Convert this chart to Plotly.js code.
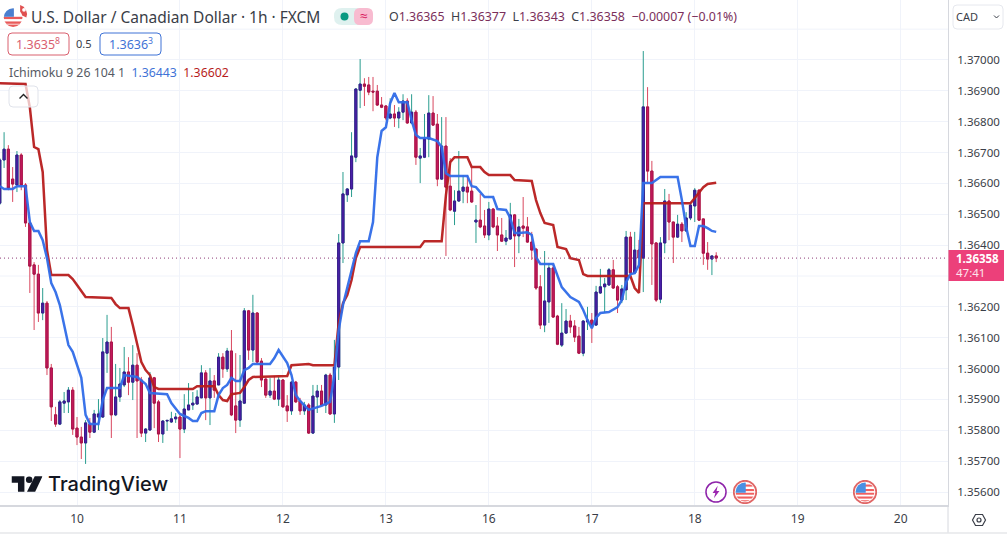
<!DOCTYPE html>
<html>
<head>
<meta charset="utf-8">
<script src="https://cdn.plot.ly/plotly-3.0.1.min.js"></script>
<style>html,body{margin:0;padding:0;background:#fff;overflow:hidden}#chart{width:1007px;height:536px}</style>
</head>
<body>
<div id="chart"></div>
<script>
// Hourly bars (x = bar number)
const open  = [136536,136676,136711,136614,136595,136692,136595,136472,136336,136306,136180,136212,136002,135850,135820,135888,135892,135930,135807,135778,135759,135820,135794,135843,135843,136050,136086,135850,135908,135947,135989,135956,136011,135963,135791,135801,135970,135892,135788,135830,135827,135837,135843,135804,135866,135882,135885,135905,135986,135905,135960,135947,136037,135999,136057,135879,135833,135888,136187,136060,136180,136024,135966,135914,135927,135901,135963,135879,135863,135956,135895,135863,135882,135791,135908,135927,135882,135979,135853,136005,136407,136563,136582,136685,136902,136922,136919,136899,136899,136854,136851,136812,136825,136812,136831,136867,136796,136831,136682,136685,136744,136828,136792,136614,136721,136591,136510,136543,136575,136588,136575,136475,136481,136462,136433,136517,136462,136433,136413,136420,136498,136430,136462,136459,136410,136387,136265,136141,136216,136326,136170,136076,136115,136154,136138,136105,136050,136151,136157,136141,136245,136265,136271,136320,136265,136222,136255,136426,136310,136384,136358,136848,136640,136407,136225,136407,136543,136475,136426,136468,136446,136488,136527,136578,136485,136374,136355,136365];
const high  = [136682,136766,136724,136653,136705,136698,136601,136475,136345,136336,136261,136219,136015,135876,135898,135924,135940,135940,135843,135811,135833,135840,135866,135901,136099,136174,136135,136015,136002,136070,136037,136076,136050,135973,135807,135989,135973,135898,135833,135833,135860,135856,135853,135917,135953,135924,135930,136011,135995,136002,135979,136050,136050,136067,136125,136050,136044,136196,136190,136239,136183,136034,135969,135969,135976,135973,135966,135914,135960,135960,135905,135892,135888,135947,135947,135947,135983,135986,136093,136436,136637,136585,136766,136909,137003,136941,136945,136945,136919,136880,136854,136876,136854,136847,136889,136876,136889,136838,136715,136825,136886,136883,136825,136815,136815,136682,136578,136705,136627,136627,136650,136530,136566,136514,136540,136520,136491,136488,136449,136537,136501,136485,136556,136491,136443,136391,136303,136381,136342,136336,136174,136212,136193,136174,136157,136135,136157,136200,136180,136268,136323,136294,136326,136352,136271,136271,136446,136443,136443,136417,137029,136912,136673,136410,136426,136582,136566,136475,136498,136475,136507,136537,136585,136582,136485,136410,136365,136377];
const low   = [136530,136650,136578,136540,136572,136578,136459,136245,136125,136151,136157,135979,135830,135811,135817,135856,135856,135785,135752,135707,135691,135775,135791,135801,135840,135986,135775,135846,135892,135940,135914,135898,135775,135778,135762,135798,135807,135762,135759,135798,135824,135824,135710,135791,135866,135866,135885,135905,135833,135817,135905,135947,135970,135989,135846,135791,135811,135885,136028,136021,136018,135940,135905,135905,135898,135879,135873,135827,135850,135889,135850,135850,135788,135788,135856,135879,135856,135850,135824,135963,136342,136540,136556,136669,136844,136851,136886,136834,136851,136844,136805,136808,136783,136779,136805,136793,136792,136660,136601,136682,136685,136786,136591,136611,136365,136510,136465,136540,136536,136536,136537,136407,136455,136423,136416,136455,136381,136410,136400,136417,136329,136374,136426,136407,136352,136255,136128,136118,136148,136164,136076,136070,136113,136115,136086,136047,136040,136125,136083,136138,136242,136180,136268,136258,136180,136212,136222,136307,136307,136355,136248,136604,136271,136216,136212,136374,136416,136342,136423,136410,136443,136481,136475,136478,136336,136320,136303,136345];
const close = [136676,136711,136585,136598,136692,136595,136472,136332,136306,136180,136212,136002,135876,135820,135892,135895,135930,135804,135778,135759,135824,135794,135853,135853,136054,136086,135850,135908,135950,135989,135956,136011,135960,135791,135804,135970,135888,135788,135830,135832,135837,135843,135804,135869,135882,135888,135908,135986,135905,135960,135930,136037,135999,136057,135850,135833,135895,136187,136060,136180,136021,135963,135914,135927,135901,135963,135876,135863,135956,135892,135863,135882,135791,135911,135927,135882,135979,135853,136005,136407,136566,136582,136689,136906,136922,136915,136896,136896,136854,136847,136812,136825,136812,136831,136867,136796,136831,136685,136689,136744,136828,136789,136614,136721,136588,136514,136543,136575,136588,136572,136540,136481,136459,136433,136517,136459,136433,136413,136423,136498,136430,136459,136455,136410,136384,136261,136141,136219,136326,136167,136079,136115,136154,136135,136102,136050,136154,136157,136141,136248,136265,136274,136320,136261,136222,136258,136426,136310,136384,136358,136848,136640,136404,136222,136407,136543,136475,136426,136468,136446,136488,136530,136578,136481,136374,136355,136365,136358];

// Ichimoku conversion line (blue): bar number and value at each bend
const conversionBar = [0,1,3,4,6,7,8,9,10,11,12,13,14,16,17,19,20,21,23,24,25,28,29,32,34,35,39,40,42,44,45,46,47,48,50,51,52,53,54,55,56,57,58,59,63,64,65,66,67,68,69,70,71,72,75,77,78,79,80,81,82,83,84,86,87,88,89,90,91,92,93,95,96,97,98,100,102,103,104,105,109,110,111,113,115,116,118,119,120,121,123,124,125,126,129,130,131,133,135,136,137,138,139,140,142,144,145,146,147,148,149,150,152,154,158,159,160,161,162,163,164,165,166,167];
const conversionVal = [136591,136582,136582,136591,136591,136475,136446,136446,136416,136358,136277,136248,136206,136076,136054,135970,135850,135820,135820,135898,135937,135937,135979,135973,135950,135921,135917,135888,135853,135840,135830,135830,135856,135862,135862,135914,135937,135947,135970,135960,135960,135995,136002,136015,136015,136034,136060,136041,136018,135979,135914,135895,135882,135866,135879,135892,135979,136125,136206,136261,136319,136374,136413,136413,136475,136685,136770,136782,136860,136893,136863,136863,136805,136757,136747,136747,136737,136718,136633,136624,136624,136591,136588,136556,136556,136517,136514,136488,136439,136439,136442,136433,136361,136339,136339,136300,136264,136232,136216,136190,136157,136131,136164,136180,136183,136199,136222,136280,136306,136309,136335,136601,136601,136621,136621,136546,136459,136397,136397,136462,136462,136455,136446,136443];

// Ichimoku base line (red): bar number and value at each bend
const baseBar = [0,6,7,8,9,10,11,12,16,17,18,20,26,27,28,30,31,32,33,34,35,36,37,45,46,50,51,52,53,54,56,57,58,59,67,68,72,73,78,79,80,81,82,83,84,98,99,103,104,105,106,109,110,112,113,114,119,120,124,125,126,127,129,130,132,133,135,136,137,146,147,148,149,150,161,162,163,164,165,166,167];
const baseVal = [136925,136922,136847,136718,136711,136637,136384,136303,136303,136290,136271,136232,136229,136209,136196,136196,136141,136076,136021,135995,135979,135940,135934,135934,135943,135943,135914,135898,135895,135917,135921,135940,135963,135973,135976,136011,136015,136011,136011,136148,136212,136238,136287,136358,136394,136394,136413,136413,136562,136669,136685,136685,136653,136653,136637,136627,136627,136611,136608,136546,136504,136472,136465,136394,136387,136358,136352,136306,136300,136300,136300,136261,136245,136536,136536,136553,136572,136588,136598,136601,136602];

const dayLabels = ['10','11','12','13','16','17','18','19','20'];
const dayBars   = [18,42,66,90,114,138,162,186,210];
const priceLabels = ['1.35600','1.35700','1.35800','1.35900','1.36000','1.36100','1.36200','1.36400','1.36500','1.36600','1.36700','1.36800','1.36900','1.37000'];
const priceTicks  = [1.356,1.357,1.358,1.359,1.36,1.361,1.362,1.364,1.365,1.366,1.367,1.368,1.369,1.37];
const unlabelledGrid = [1.363,1.371];
const lastPrice = 1.36358;

const p = a => a.map(v => v / 100000);
const bars = open.map((_, i) => i);
const O = p(open), H = p(high), L = p(low), C = p(close);
const bodyHigh = O.map((v, i) => Math.max(v, C[i]));
const bodyLow  = O.map((v, i) => Math.min(v, C[i]));

const UP_BODY = '#4a20a8', UP_EDGE = '#3a1a8c', DN_BODY = '#c9185f', DN_EDGE = '#a3154a', UP_WICK = '#2a9d8f', DN_WICK = '#d9485f';
const FONT = '"Noto Sans", "Open Sans", sans-serif';
const DARK = '#3a3e48';
const GRID = '#f0f3fa';

const traces = [
  { type:'candlestick', x:bars, open:O, high:H, low:L, close:C, width:0.02, whiskerwidth:0,
    increasing:{line:{color:UP_WICK,width:1},fillcolor:UP_WICK},
    decreasing:{line:{color:DN_WICK,width:1},fillcolor:DN_WICK}, hoverinfo:'skip', showlegend:false },
  { type:'candlestick', x:bars, open:O, high:bodyHigh, low:bodyLow, close:C, width:0.62, whiskerwidth:0,
    increasing:{line:{color:UP_EDGE,width:1},fillcolor:UP_BODY},
    decreasing:{line:{color:DN_EDGE,width:1},fillcolor:DN_BODY}, hoverinfo:'skip', showlegend:false },
  { type:'scatter', mode:'lines', x:baseBar, y:p(baseVal), line:{color:'#b71c1c',width:2.5,shape:'linear'}, opacity:0.95, hoverinfo:'skip', showlegend:false },
  { type:'scatter', mode:'lines', x:conversionBar, y:p(conversionVal), line:{color:'#2f6be8',width:2.5,shape:'linear'}, opacity:0.95, hoverinfo:'skip', showlegend:false }
];

function txt(x, y, text, size, color, extra) {
  return Object.assign({ xref:'paper', yref:'paper', x:x/948, y:1-y/505, text:text, showarrow:false,
    xanchor:'left', yanchor:'middle', font:{family:FONT,size:size,color:color}, align:'left' }, extra||{});
}
function mid(x, y, text, size, color) {
  return txt(x, y, text, size, color, {xanchor:'center'});
}
function pxX(x){ return x/948; }
function pxY(y){ return 1-y/505; }
function rrect(x0,y0,x1,y1,r){
  const X=pxX, Y=pxY, kx=r/948, ky=r/505;
  return `M${X(x0)+kx},${Y(y0)} L${X(x1)-kx},${Y(y0)} Q${X(x1)},${Y(y0)} ${X(x1)},${Y(y0)-ky} L${X(x1)},${Y(y1)+ky} Q${X(x1)},${Y(y1)} ${X(x1)-kx},${Y(y1)} L${X(x0)+kx},${Y(y1)} Q${X(x0)},${Y(y1)} ${X(x0)},${Y(y1)+ky} L${X(x0)},${Y(y0)-ky} Q${X(x0)},${Y(y0)} ${X(x0)+kx},${Y(y0)} Z`;
}
function box(x0,y0,x1,y1,r,fill,line,w,op){
  return { type:'path', xref:'paper', yref:'paper', path:rrect(x0,y0,x1,y1,r), fillcolor:fill||'rgba(0,0,0,0)',
    line:{color:line||'rgba(0,0,0,0)',width:w===undefined?1:w}, opacity:op===undefined?1:op, layer:'above' };
}
function seg(x0,y0,x1,y1,color,w){
  return { type:'line', xref:'paper', yref:'paper', x0:pxX(x0), y0:pxY(y0), x1:pxX(x1), y1:pxY(y1), line:{color:color,width:w||1} };
}
function icon(svg,cx,cy,size){
  return { source:'data:image/svg+xml;utf8,'+encodeURIComponent(svg), xref:'paper', yref:'paper', x:pxX(cx), y:pxY(cy),
    sizex:size/948, sizey:size/505, xanchor:'center', yanchor:'middle', sizing:'contain', layer:'above' };
}
const flagSvg = `<svg xmlns="http://www.w3.org/2000/svg" viewBox="0 0 32 32"><circle cx="16" cy="16" r="15" fill="#fff" stroke="#e06666" stroke-width="2.4"/><clipPath id="c"><circle cx="16" cy="16" r="12.6"/></clipPath><g clip-path="url(#c)"><rect width="32" height="32" fill="#fff"/><rect y="17" width="32" height="2.6" fill="#f06060"/><rect y="22" width="32" height="2.8" fill="#f06060"/><rect y="12" x="16" width="16" height="2.8" fill="#f06060"/><rect y="6" x="16" width="16" height="2.8" fill="#f06060"/><rect y="27" width="32" height="5" fill="#f06060"/><rect width="17" height="17" fill="#4a90e2"/></g></svg>`;
const boltSvg = `<svg xmlns="http://www.w3.org/2000/svg" viewBox="0 0 32 32"><circle cx="16" cy="16" r="14.6" fill="#fff" stroke="#8e24aa" stroke-width="2.2"/><path d="M18.5 7 L11 17.5 H15 L13 25 L21 14.5 H16.8 Z" fill="#9c27b0"/></svg>`;
const pairSvg = `<svg xmlns="http://www.w3.org/2000/svg" viewBox="0 0 36 32"><path d="M22 2 A12 12 0 0 1 30 18 L22 14 Z" fill="#e05050"/><circle cx="27" cy="8" r="2.4" fill="#fff"/><clipPath id="d"><circle cx="13" cy="18" r="12"/></clipPath><g clip-path="url(#d)"><rect width="36" height="32" fill="#fff"/><rect y="17" width="36" height="3" fill="#e85a5a"/><rect y="23" width="36" height="3" fill="#e85a5a"/><rect y="27" width="36" height="5" fill="#e85a5a"/><rect x="0" y="5" width="14" height="12" fill="#4a7fd0"/></g></svg>`;
const logoSvg = `<svg xmlns="http://www.w3.org/2000/svg" viewBox="0 0 36 20"><path d="M0 1 H15 V19 H7.5 V8.5 H0 Z" fill="#131722"/><circle cx="20.5" cy="5" r="3.8" fill="#131722"/><path d="M27 1 H36 L27.5 19 H18 Z" fill="#131722"/></svg>`;

const legendMuted = '#7b2f5b', legendKey = '#3a3e48';
const ohlc = `O<span style="color:${legendMuted}">1.36365</span>  H<span style="color:${legendMuted}">1.36377</span>  L<span style="color:${legendMuted}">1.36343</span>  C<span style="color:${legendMuted}">1.36358</span>  <span style="color:${legendMuted}">−0.00007 (−0.01%)</span>`;

const extraGrid = unlabelledGrid.map(v => ({ type:'line', xref:'paper', yref:'y', x0:0, x1:1, y0:v, y1:v, line:{color:GRID,width:1}, layer:'below' }));

const layout = {
  width:1007, height:536, autosize:false,
  margin:{l:0,r:59,t:0,b:31,pad:0},
  paper_bgcolor:'#fff', plot_bgcolor:'#fff',
  showlegend:false, dragmode:false,
  font:{family:FONT,size:12,color:DARK},
  xaxis:{ type:'linear', range:[0.05,221.03], tickmode:'array', tickvals:dayBars, ticktext:dayLabels,
    showgrid:true, gridcolor:GRID, gridwidth:1, zeroline:false, showline:true, linecolor:'#d6d8de', linewidth:1.5,
    ticks:'outside', ticklen:2, tickcolor:'rgba(0,0,0,0)', rangeslider:{visible:false}, tickfont:{family:FONT,size:12,color:DARK}, fixedrange:true },
  yaxis:{ side:'right', range:[1.355579,1.371944], tickmode:'array', tickvals:priceTicks, ticktext:priceLabels,
    showgrid:true, gridcolor:GRID, gridwidth:1, zeroline:false, showline:true, linecolor:'#d6d8de', linewidth:1,
    ticks:'outside', ticklen:6, tickcolor:'rgba(0,0,0,0)', tickfont:{family:FONT,size:11.5,color:DARK}, fixedrange:true },
  shapes:extraGrid.concat([
    { type:'line', xref:'paper', yref:'y', x0:0, x1:1, y0:lastPrice, y1:lastPrice, line:{color:'#8e3b78',width:1,dash:'1px,3px'}, layer:'above' },
    seg(948,505,948,533,'#d6d8de',1),
    seg(0,533,1007,533,'#e6e7ea',1.5),
    { type:'rect', xref:'paper', yref:'paper', x0:pxX(948.5), x1:pxX(1004), y0:pxY(250), y1:pxY(281), fillcolor:'#ec407a', line:{width:0}, layer:'above' },
    box(953,5,1003,29,4,'#fff','#e6e8ee',1),
    { type:'path', xref:'paper', yref:'paper', line:{color:DARK,width:1}, path:`M${pxX(994)},${pxY(15.5)} L${pxX(996.5)},${pxY(18)} L${pxX(999)},${pxY(15.5)}` },
    box(8,33,69,55,4,'#fff','#d9606f',1),
    box(100,33,161,55,4,'#fff','#3f73d6',1),
    box(9,86,38,107,4,'rgba(255,255,255,0.72)','#e0e3eb',1),
    { type:'path', xref:'paper', yref:'paper', line:{color:'#222',width:1.4}, path:`M${pxX(19.5)},${pxY(98.5)} L${pxX(23.5)},${pxY(94.5)} L${pxX(27.5)},${pxY(98.5)}` },
    box(334,8,373,25,8,'#dff1ef','rgba(0,0,0,0)',0),
    box(354,8,373,25,6,'#f8bbd0','rgba(0,0,0,0)',0),
    { type:'circle', xref:'paper', yref:'paper', x0:pxX(340.5), x1:pxX(348.5), y0:pxY(12.5), y1:pxY(20.5), fillcolor:'#089981', line:{width:0} },
    // settings hexagon
    { type:'path', xref:'paper', yref:'paper', line:{color:DARK,width:1.2}, path:`M${pxX(972.5)},${pxY(520)} L${pxX(975.5)},${pxY(514.5)} L${pxX(982.5)},${pxY(514.5)} L${pxX(985.5)},${pxY(520)} L${pxX(982.5)},${pxY(525.5)} L${pxX(975.5)},${pxY(525.5)} Z` },
    { type:'circle', xref:'paper', yref:'paper', x0:pxX(977),x1:pxX(981),y0:pxY(518),y1:pxY(522), line:{color:DARK,width:1.2} }
  ]),
  images:[
    icon(pairSvg,17,16,28),
    icon(logoSvg,27,484,31),
    icon(boltSvg,716,492,22),
    icon(flagSvg,745,492,24),
    icon(flagSvg,865,492,24)
  ],
  annotations:[
    txt(29,16.5,'U.S. Dollar / Canadian Dollar · 1h · FXCM',15.5,'#3a3e48'),
    txt(387,16.5,ohlc,12.4,legendKey),
    mid(363.5,15.5,'≈',14,'#d81b60'),
    txt(14,44.5,'1.3635<sup>8</sup>',12.5,'#d9606f'),
    mid(84,44,'0.5',11,DARK),
    txt(107,44.5,'1.3636<sup>3</sup>',12.5,'#3f73d6'),
    txt(7,72.5,`Ichimoku 9 26 104 1  <span style="color:#3f73d6">1.36443</span>  <span style="color:#b71c1c">1.36602</span>`,12.3,'#555a63'),
    txt(46,484,'TradingView',20,'#131722',{font:{family:'Inter, "Noto Sans", sans-serif',size:20,color:'#131722',weight:500}}),
    txt(954,258.5,'1.36358',11.5,'#fff',{font:{family:FONT,size:11.5,color:'#fff',weight:700}}),
    txt(954,272.5,'47:41',11.5,'#fde4ec'),
    txt(954,16.5,'CAD',11,DARK)
  ]
};
Plotly.newPlot('chart',traces,layout,{displayModeBar:false,staticPlot:true});
</script>
</body>
</html>
